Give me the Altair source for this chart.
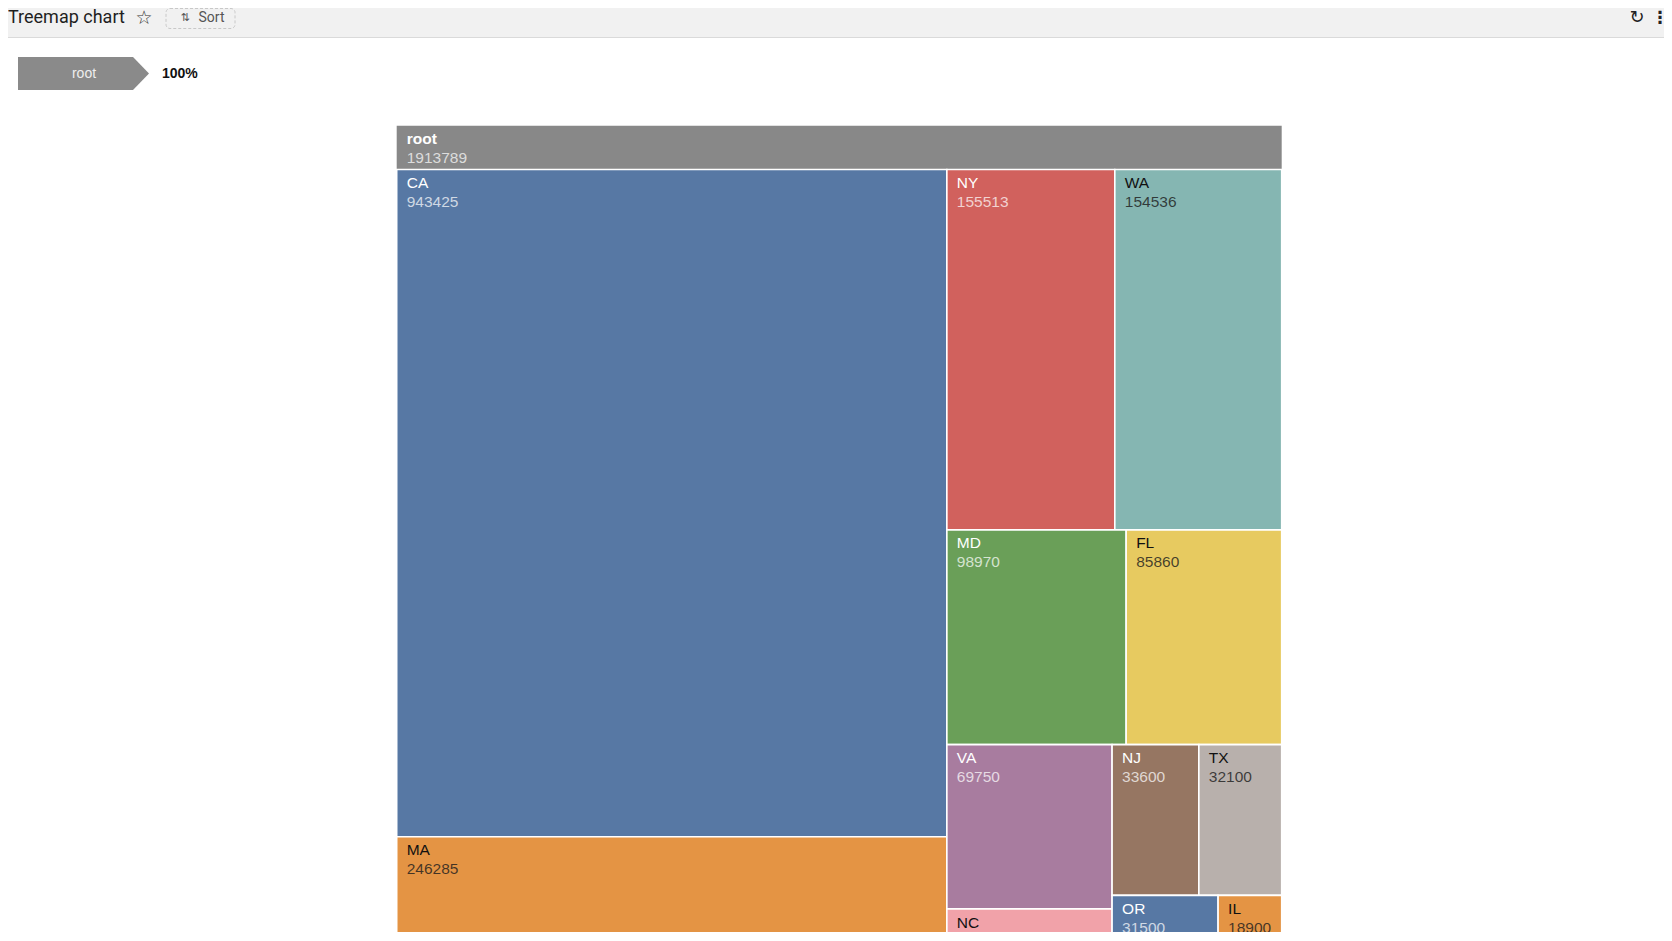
import math
import altair as alt
import pandas as pd

# ---------------- data ----------------
title_text = "Treemap chart"
root_name = "root"
root_total = 1913789
breadcrumb_share = "100%"
states = ["CA", "MA", "NY", "WA", "MD", "FL", "VA", "NC", "NJ", "TX", "OR", "IL"]
values = [943425, 246285, 155513, 154536, 98970, 85860, 69750, 43350, 33600, 32100, 31500, 18900]
palette = ["#5778a4", "#e49444", "#d1615d", "#85b6b2", "#6a9f58",
           "#e7ca60", "#a87c9f", "#f1a2a9", "#967662", "#b8b0ac"]
root_color = "#888888"

# ---------------- layout (chart pixel space) ----------------
W, H = 1656, 924
BOX_X, BOX_Y, BOX_W, BOX_BOTTOM = 388.7, 117.8, 885.0, 1003.0
HEADER_H = 43.7
FONT = "Liberation Sans"
FS = 15.5


def squarify(vals, x, y, w, h, ratio=(1 + 5 ** 0.5) / 2):
    """ECharts-style squarified treemap layout."""
    total = float(sum(vals))
    areas = [v / total * w * h for v in vals]
    rect = {"x": x, "y": y, "width": w, "height": h}
    out = [None] * len(vals)

    def worst(idx, fixed):
        a = [areas[j] for j in idx]
        s = sum(a)
        sq = s * s
        f = fixed * fixed * ratio
        return max(f * max(a) / sq, sq / (f * min(a)))

    def position(row, fixed, flush):
        i0 = 0 if fixed == rect["width"] else 1
        i1 = 1 - i0
        xy = ["x", "y"]
        wh = ["width", "height"]
        last = rect[xy[i0]]
        area = sum(areas[j] for j in row)
        other = area / fixed if fixed else 0
        if flush or other > rect[wh[i1]]:
            other = rect[wh[i1]]
        for k, j in enumerate(row):
            step = areas[j] / other if other else 0
            remain = rect[xy[i0]] + rect[wh[i0]] - last
            mod = remain if (k == len(row) - 1 or remain < step) else step
            lay = {xy[i1]: rect[xy[i1]], wh[i1]: other, xy[i0]: last, wh[i0]: mod}
            last += mod
            out[j] = lay
        rect[xy[i1]] += other
        rect[wh[i1]] -= other

    row = []
    best = math.inf
    fixed = min(w, h)
    i = 0
    while i < len(vals):
        row.append(i)
        score = worst(row, fixed)
        if score <= best:
            i += 1
            best = score
        else:
            row.pop()
            position(row, fixed, False)
            fixed = min(rect["width"], rect["height"])
            row = []
            best = math.inf
    if row:
        position(row, fixed, True)
    return out


def is_dark(hexcol):
    r, g, b = (int(hexcol[k:k + 2], 16) for k in (1, 3, 5))
    return (0.299 * r + 0.587 * g + 0.114 * b) < 150


child_top = BOX_Y + HEADER_H
lay = squarify(values, BOX_X, child_top, BOX_W, BOX_BOTTOM - child_top)
colors = [palette[i % len(palette)] for i in range(len(states))]

rows = []
for name, val, col, l in zip(states, values, colors, lay):
    dark = is_dark(col)
    rows.append({
        "name": name, "value": str(val),
        "x0": l["x"], "x1": l["x"] + l["width"],
        "y0": l["y"], "y1": l["y"] + l["height"],
        "tx": l["x"] + 10.0,
        "ny": l["y"] + 18.6, "vy": l["y"] + 37.6,
        "ncol": "#ffffff" if dark else "#111111",
        "vcol": "rgba(255,255,255,0.72)" if dark else "rgba(30,30,30,0.82)",
    })
cells = pd.DataFrame(rows)
root = pd.DataFrame([{
    "name": root_name, "value": str(root_total),
    "x0": BOX_X, "x1": BOX_X + BOX_W, "y0": BOX_Y, "y1": BOX_BOTTOM,
    "tx": BOX_X + 10.0, "ny": BOX_Y + 18.6, "vy": BOX_Y + 37.0,
}])

xs = alt.Scale(domain=[0, W], nice=False, zero=False)
ys = alt.Scale(domain=[0, H], nice=False, zero=False, reverse=True)


def X(f):
    return alt.X(f, type="quantitative", scale=xs, axis=None)


def Y(f):
    return alt.Y(f, type="quantitative", scale=ys, axis=None)


root_rect = alt.Chart(root).mark_rect(color=root_color, clip=True).encode(
    x=X("x0"), x2="x1", y=Y("y0"), y2="y1")
root_name_t = alt.Chart(root).mark_text(
    align="left", baseline="alphabetic", font=FONT, fontSize=FS, fontWeight="bold",
    color="#ffffff", clip=True).encode(x=X("tx"), y=Y("ny"), text="name:N")
root_val_t = alt.Chart(root).mark_text(
    align="left", baseline="alphabetic", font=FONT, fontSize=FS,
    color="rgba(255,255,255,0.72)", clip=True).encode(x=X("tx"), y=Y("vy"), text="value:N")

cell_rect = alt.Chart(cells).mark_rect(stroke="#ffffff", strokeWidth=1.6, clip=True).encode(
    x=X("x0"), x2="x1", y=Y("y0"), y2="y1",
    color=alt.Color("name:N", scale=alt.Scale(domain=states, range=colors), legend=None))
cell_name = alt.Chart(cells).mark_text(
    align="left", baseline="alphabetic", font=FONT, fontSize=FS, clip=True).encode(
    x=X("tx"), y=Y("ny"), text="name:N", color=alt.Color("ncol:N", scale=None))
cell_val = alt.Chart(cells).mark_text(
    align="left", baseline="alphabetic", font=FONT, fontSize=FS, clip=True).encode(
    x=X("tx"), y=Y("vy"), text="value:N", color=alt.Color("vcol:N", scale=None))

# ---------------- page chrome ----------------
one = pd.DataFrame({"k": [0]})


def box(x0, x1, y0, y1, **kw):
    return alt.Chart(one).mark_rect(**kw).encode(
        x=alt.value(x0), x2=alt.value(x1), y=alt.value(y0), y2=alt.value(y1))


def label(txt, x, y, **kw):
    return alt.Chart(one).mark_text(**kw).encode(
        x=alt.value(x), y=alt.value(y), text=alt.value(txt))


header_band = box(0, W, 0, 29, color="#f1f1f1")
header_line = alt.Chart(one).mark_rule(color="#dadada", strokeWidth=1).encode(
    x=alt.value(0), x2=alt.value(W), y=alt.value(29.5))
title_t = label(title_text, 0, 15, align="left", baseline="alphabetic",
                font="Roboto", fontSize=18, color="#1f1f1f")
star_t = label("☆", 136, 10, align="center", baseline="middle",
               font="DejaVu Sans", fontSize=19, color="#333333")
sort_box = box(158, 227, 0.5, 20.5, fill="#f1f1f1", stroke="#c8c8c8",
               strokeDash=[3, 2], strokeWidth=1, cornerRadius=4)
sort_icon = label("⇅", 177, 9.5, align="center", baseline="middle",
                  font="DejaVu Sans", fontSize=11, color="#555555")
sort_t = label("Sort", 190.5, 9.5, align="left", baseline="middle",
               font="Roboto", fontSize=14, color="#555555")
refresh_t = label("↻", 1629, 10, align="center", baseline="middle",
                  font="DejaVu Sans", fontSize=18, color="#222222")
dots_t = label("⋮", 1652, 10, align="center", baseline="middle",
               font="DejaVu Sans", fontSize=17, fontWeight="bold", color="#222222")

crumb = alt.Chart(one).mark_point(
    shape="M0,-1L6.97,-1L7.94,0L6.97,1L0,1Z", filled=True, opacity=1,
    strokeWidth=0, color="#8a8a8a").encode(
    x=alt.value(10), y=alt.value(65.5), size=alt.value(1089))
crumb_t = label(root_name, 76, 65.5, align="center", baseline="middle",
                font=FONT, fontSize=14, color="#eeeeee")
pct_t = label(breadcrumb_share, 154, 65.5, align="left", baseline="middle",
              font=FONT, fontSize=14, fontWeight="bold", color="#111111")

chart = alt.layer(
    header_band, header_line, sort_box, title_t, star_t, sort_icon, sort_t,
    refresh_t, dots_t, crumb, crumb_t, pct_t,
    root_rect, cell_rect, root_name_t, root_val_t, cell_name, cell_val,
).properties(
    width=W, height=H, padding=0, background="#ffffff",
    autosize=alt.AutoSizeParams(type="none"),
).configure_view(stroke=None)

chart.save("out.html", embed_options={"renderer": "svg", "actions": False})
